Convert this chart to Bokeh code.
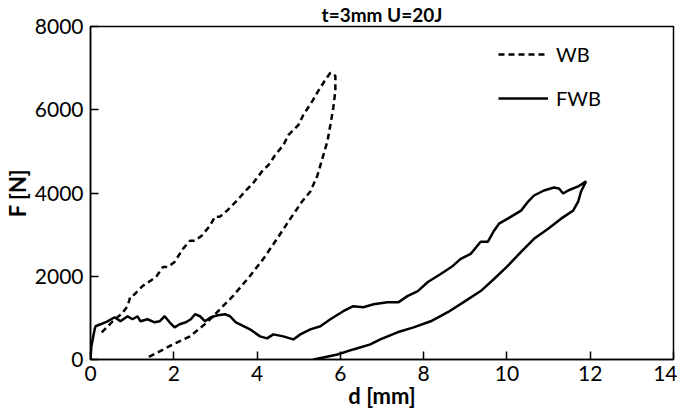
from bokeh.plotting import figure
from bokeh.models import Range1d, Legend, LegendItem, FixedTicker, Title
from bokeh.embed import file_html
from bokeh.resources import INLINE

# WB (dashed): loading then unloading
wb_x = [0.27, 0.53, 0.75, 0.89, 0.96, 1.05, 1.25, 1.45, 1.59, 1.74, 1.86, 2.02, 2.22, 2.39, 2.51,
        2.67, 2.87, 2.99, 3.11, 3.28, 3.52, 3.71, 3.90, 4.12, 4.31, 4.43, 4.63, 4.75, 4.99, 5.11,
        5.33, 5.47, 5.64, 5.76, 5.88,
        5.88, 5.83, 5.76, 5.69, 5.57, 5.45, 5.28, 5.08, 4.80, 4.48, 4.15, 3.83, 3.42, 3.11, 2.80,
        2.39, 1.98, 1.66, 1.37]
wb_f = [650, 918, 1100, 1281, 1523, 1560, 1764, 1900, 2006, 2224, 2224, 2345, 2659, 2852, 2852,
        2973, 3215, 3432, 3432, 3577, 3819, 4036, 4230, 4520, 4713, 4907, 5148, 5390, 5632, 5873,
        6212, 6453, 6719, 6889, 6816,
        6453, 6043, 5632, 5245, 4834, 4423, 4036, 3795, 3384, 2900, 2417, 2006, 1523, 1209, 894,
        556, 363, 193, 48]

# FWB (solid): loading then unloading
fwb_x = [0.0, 0.02, 0.1, 0.12, 0.24, 0.41, 0.58, 0.72, 0.89, 1.01, 1.13, 1.2, 1.37, 1.54, 1.66,
         1.78, 1.9, 2.02, 2.14, 2.29, 2.41, 2.51, 2.63, 2.75, 2.89, 3.06, 3.23, 3.35, 3.49, 3.59,
         3.83, 4.07, 4.24, 4.39, 4.63, 4.87, 5.04, 5.28, 5.52, 5.76, 6.07, 6.31, 6.55, 6.8, 7.13,
         7.4, 7.61, 7.86, 8.1, 8.41, 8.7, 8.89, 9.13, 9.37, 9.54, 9.69, 9.81, 10.02, 10.22, 10.34,
         10.51, 10.65, 10.89, 11.13, 11.25, 11.35, 11.47, 11.71, 11.9,
         11.78, 11.71, 11.59, 11.3, 10.99, 10.65, 10.34, 10.02, 9.69, 9.37, 8.96, 8.58, 8.17,
         7.76, 7.37, 6.96, 6.72, 6.31, 5.93, 5.59, 5.35]
fwb_f = [0, 314, 725, 798, 846, 918, 1015, 918, 1039, 967, 1039, 918, 967, 894, 918,
         1039, 894, 773, 846, 894, 967, 1088, 1039, 918, 1015, 1063, 1088, 1039, 894, 846,
         725, 556, 508, 604, 556, 483, 604, 725, 798, 967, 1160, 1281, 1257, 1329, 1378,
         1378, 1523, 1644, 1861, 2054, 2248, 2417, 2538, 2828, 2828, 3094, 3263, 3384, 3505, 3577,
         3795, 3940, 4060, 4133, 4109, 3988, 4060, 4157, 4278,
         4036, 3795, 3577, 3384, 3142, 2900, 2586, 2248, 1934, 1644, 1378, 1136, 918,
         773, 653, 483, 363, 242, 121, 48, 0]

x_ticks = [0, 2, 4, 6, 8, 10, 12, 14]
y_ticks = [0, 2000, 4000, 6000, 8000]

FONT = "Lato"

p = figure(width=677, height=411, output_backend="svg", toolbar_location=None,
           x_range=Range1d(0, 14), y_range=Range1d(0, 8000),
           min_border_left=83, min_border_right=4, min_border_top=0, min_border_bottom=0)

t = Title(text="t=3mm U=20J", align="center", text_font=FONT, text_font_size="19px",
          text_font_style="bold", text_color="black", standoff=1)
p.add_layout(t, "above")

p.grid.visible = False
p.outline_line_color = "black"
p.outline_line_width = 1.5
p.outline_line_alpha = 1

for ax in (p.xaxis[0], p.yaxis[0]):
    ax.axis_line_color = "black"
    ax.axis_line_width = 1.5
    ax.major_tick_in = 8
    ax.major_tick_out = 0
    ax.major_tick_line_width = 1.5
    ax.major_tick_line_color = "black"
    ax.minor_tick_line_color = None
    ax.major_label_text_font = FONT
    ax.major_label_text_font_size = "21px"
    ax.major_label_text_color = "black"
    ax.axis_label_text_font = FONT
    ax.axis_label_text_font_size = "22px"
    ax.axis_label_text_font_style = "bold"
    ax.axis_label_text_color = "black"

p.xaxis.ticker = FixedTicker(ticks=x_ticks)
p.yaxis.ticker = FixedTicker(ticks=y_ticks)
p.xaxis.axis_label = "d [mm]"
p.yaxis.axis_label = "F [N]"
p.xaxis.major_label_standoff = 6
p.xaxis.axis_label_standoff = -2
p.yaxis.major_label_standoff = 7
p.yaxis.axis_label_standoff = 1

r_wb = p.line(wb_x, wb_f, line_color="black", line_width=2.5, line_dash="6 4")
r_fwb = p.line(fwb_x, fwb_f, line_color="black", line_width=2.5)

legend = Legend(items=[LegendItem(label="WB", renderers=[r_wb]),
                       LegendItem(label="FWB", renderers=[r_fwb])],
                location=(408, 249), orientation="vertical",
                glyph_width=50, glyph_height=20, label_standoff=8, spacing=20,
                padding=0, margin=0, border_line_color=None, background_fill_alpha=0,
                label_text_font=FONT, label_text_font_size="20px", label_text_color="black")
p.add_layout(legend)

open("out.html", "w").write(file_html(p, INLINE))
